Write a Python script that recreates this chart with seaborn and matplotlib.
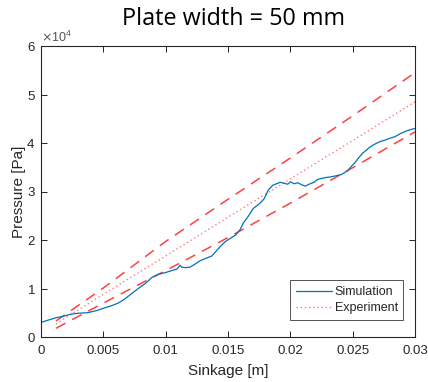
import numpy as np
import pandas as pd
import seaborn as sns
import matplotlib
matplotlib.use("Agg")
import matplotlib.pyplot as plt
from matplotlib.ticker import ScalarFormatter, FuncFormatter, MultipleLocator
from matplotlib.lines import Line2D

# Plate sinkage test, 50 mm plate: simulated pressure vs. measured bounds
sim_sinkage = [0.0, 0.0006, 0.00125, 0.0018, 0.0024, 0.0030, 0.0037, 0.0044, 0.0051,
               0.0057, 0.0062, 0.0067, 0.0072, 0.0078, 0.0084, 0.0089, 0.0094,
               0.0100, 0.0105, 0.0109, 0.01115, 0.0113, 0.0116, 0.01195, 0.0124,
               0.01275, 0.0132, 0.0137, 0.01436, 0.0148, 0.01516, 0.0156, 0.01596,
               0.01623, 0.0166, 0.01703, 0.01757, 0.0179, 0.01823, 0.0186, 0.0189,
               0.0192, 0.0195, 0.0198, 0.0200, 0.0203, 0.0206, 0.0209, 0.0212,
               0.0215, 0.0219, 0.0222, 0.0225, 0.0229, 0.0232, 0.0236, 0.0241,
               0.0246, 0.0249, 0.0252, 0.0255, 0.0258, 0.02613, 0.0264, 0.0268,
               0.0272, 0.0276, 0.0280, 0.0284, 0.0288, 0.02933, 0.0297, 0.0300]
sim_pressure = [3000, 3500, 4000, 4300, 4700, 4900, 5000, 5400, 6000,
                6500, 7000, 7800, 8800, 10000, 11100, 12300, 12900,
                13300, 13700, 14000, 14800, 14400, 14300, 14400, 15100,
                15700, 16200, 16700, 18600, 19700, 20300, 21000, 22100,
                23500, 24800, 26500, 27600, 28500, 30300, 31300, 31600,
                31900, 31700, 31500, 32000, 31600, 31800, 31400, 31100,
                31500, 31900, 32500, 32700, 32900, 33000, 33200, 33500,
                34300, 35200, 36000, 37000, 37900, 38600, 39200, 39800,
                40300, 40600, 41000, 41300, 41900, 42500, 42800, 43000]

exp_sinkage = [0.0012, 0.005, 0.010, 0.015, 0.020, 0.025, 0.030]
exp_mean = [2700, 8800, 16700, 24700, 32600, 40500, 48500]
exp_upper = [3300, 10100, 19700, 28400, 36900, 45600, 54500]
exp_lower = [1800, 7000, 13700, 20500, 27600, 34900, 42300]

title_text = "Plate width = 50 mm"
x_label = "Sinkage [m]"
y_label = "Pressure [Pa]"
legend_labels = ["Simulation", "Experiment"]

sns.set_theme(style="white")
plt.rcParams["font.family"] = ["Liberation Sans", "DejaVu Sans"]

blue = "#0072BD"
red = "#FF2020"
axis_gray = "#262626"

fig = plt.figure(figsize=(4.28, 3.82), dpi=100)
ax = fig.add_axes([41 / 428, 45 / 382, 374 / 428, 291 / 382])

sns.lineplot(x=exp_sinkage, y=exp_upper, ax=ax, color=red, lw=1.1,
             linestyle=(0, (7, 5)), alpha=0.85)
sns.lineplot(x=exp_sinkage, y=exp_lower, ax=ax, color=red, lw=1.1,
             linestyle=(0, (7, 5)), alpha=0.85)
sns.lineplot(x=exp_sinkage, y=exp_mean, ax=ax, color=red, lw=1.0,
             linestyle=(0, (1, 2)), alpha=0.6)
sns.lineplot(x=sim_sinkage, y=sim_pressure, ax=ax, color=blue, lw=0.9,
             sort=False, estimator=None)

ax.set_xlim(0, 0.03)
ax.set_ylim(0, 60000)
ax.xaxis.set_major_locator(MultipleLocator(0.005))
ax.yaxis.set_major_locator(MultipleLocator(10000))
ax.xaxis.set_major_formatter(FuncFormatter(lambda v, p: f"{v:g}"))
fmt = ScalarFormatter(useMathText=True)
fmt.set_powerlimits((0, 0))
ax.yaxis.set_major_formatter(fmt)

for side in ["top", "right", "bottom", "left"]:
    ax.spines[side].set_visible(True)
    ax.spines[side].set_color(axis_gray)
    ax.spines[side].set_linewidth(0.8)
ax.tick_params(direction="in", length=4, width=0.7, colors=axis_gray,
               labelsize=9.5, top=True, right=True, bottom=True, left=True)
ax.tick_params(axis="x", pad=6)
ax.tick_params(axis="y", pad=4)
ax.yaxis.get_offset_text().set_fontsize(9)
ax.yaxis.get_offset_text().set_color("#555555")

ax.set_xlabel(x_label, fontsize=11, color=axis_gray, labelpad=5)
ax.set_ylabel(y_label, fontsize=11, color=axis_gray, labelpad=0)

fig.text(0.545, 0.95, title_text, ha="center", va="center", fontsize=16.8,
         color="black", family=["Open Sans", "DejaVu Sans"])

handles = [Line2D([], [], color=blue, lw=0.9),
           Line2D([], [], color=red, lw=1.0, linestyle=(0, (1, 2)), alpha=0.6)]
leg = ax.legend(handles, legend_labels, loc="lower right", fontsize=9,
                frameon=True, fancybox=False, edgecolor=axis_gray,
                borderaxespad=0.0, bbox_to_anchor=(0.969, 0.058),
                handlelength=2.9, handletextpad=0.2, borderpad=0.45,
                labelspacing=0.35)
leg.get_frame().set_linewidth(0.7)

fig.savefig("out.png", dpi=100)
